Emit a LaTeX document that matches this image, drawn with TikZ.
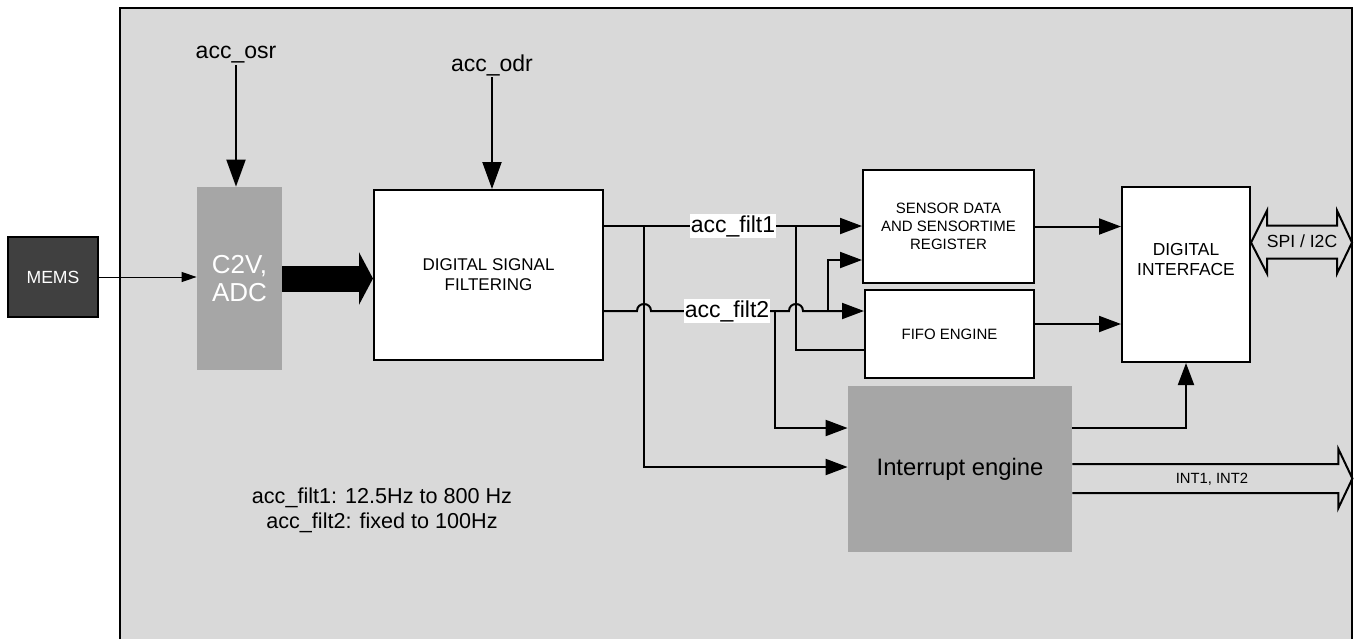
\documentclass[tikz,border=0pt]{standalone}
\usepackage{fontspec}
\setmainfont{Liberation Sans}
\usetikzlibrary{arrows.meta, positioning, calc}
\definecolor{bggray}{RGB}{217,217,217}
\definecolor{midgray}{RGB}{166,166,166}
\definecolor{memsgray}{RGB}{64,64,64}

\begin{document}
\begin{tikzpicture}[x=0.5pt,y=-0.5pt,
  arr/.style={-{Triangle[length=11pt,width=8pt]},line width=1pt},
  bigarr/.style={-{Triangle[length=13.5pt,width=9.5pt]},line width=1pt},
  wire/.style={line width=1pt},
  blk/.style={draw,fill=white,line width=1pt,align=center,inner sep=1pt},
  sig/.style={font=\fontsize{11.5}{13}\selectfont,inner sep=0.5pt},
  fat/.style={draw,line width=1pt,fill=bggray}
]
  \useasboundingbox (0,0) rectangle (1356,639);
  \fill[bggray] (120,8) rectangle (1352,639);
  \draw[line width=1pt] (120,639) -- (120,8) -- (1352,8) -- (1352,639);

  % blocks
  \node[draw,line width=1pt,fill=memsgray,text=white,minimum width=45pt,minimum height=40pt,font=\fontsize{8.8}{10}\selectfont] (mems) at (53,277) {MEMS};
  \node[fill=midgray,text=white,minimum width=42.5pt,minimum height=91.5pt,align=center,font=\fontsize{13}{14}\selectfont] (adc) at (239.5,278.5) {C2V,\\ADC};
  \node[blk,minimum width=114.5pt,minimum height=85pt,font=\fontsize{8.5}{10}\selectfont] (dsf) at (488.5,275) {DIGITAL SIGNAL\\FILTERING};
  \node[blk,minimum width=85.5pt,minimum height=56.5pt,font=\fontsize{7.5}{9}\selectfont] (sens) at (948.5,226.5) {SENSOR DATA\\AND SENSORTIME\\REGISTER};
  \node[blk,minimum width=84.5pt,minimum height=44pt,font=\fontsize{7.5}{9}\selectfont] (fifo) at (949.5,334) {FIFO ENGINE};
  \node[blk,minimum width=64pt,minimum height=87.5pt] (dif) at (1186,274.5) {};
  \node[align=center,font=\fontsize{8.7}{10}\selectfont] (diftxt) at (1186,260) {DIGITAL\\INTERFACE};
  \node[fill=midgray,minimum width=112pt,minimum height=83pt,font=\fontsize{11.9}{13}\selectfont] (irq) at (960,469) {Interrupt engine};

  \node[sig] (osr) at (236,55) {acc\_osr};
  \node[sig] (odr) at (492,65) {acc\_odr};
  \draw[bigarr] (osr) -- (osr |- adc.north);
  \draw[bigarr] (odr) -- (odr |- dsf.north);

  \draw[line width=0.5pt,-{Triangle[length=7.5pt,width=5pt]}] (mems) -- (mems -| adc.west);
  \draw[line width=13pt,-{Triangle[length=7pt,width=26pt]}] (adc) -- (adc -| dsf.west);

  \coordinate (j1) at (644,226);
  \coordinate (j2) at (796,226);
  \coordinate (j3) at (775,311);
  \coordinate (j4) at (828,311);
  \coordinate (h1) at (j1 |- j3);
  \coordinate (h2) at (j2 |- j3);

  \draw[arr] (dsf.east |- j1) -- (sens.west |- j1);
  \draw[arr] (j1) |- ([yshift=1pt]irq.west);
  \draw[wire] (j2) |- ([yshift=-8pt]fifo.west);
  \draw[arr] (dsf.east |- j3) -- ([xshift=-3.5pt]h1) .. controls +(0,-9.3) and +(0,-9.3) .. ([xshift=3.5pt]h1)
    -- ([xshift=-3.5pt]h2) .. controls +(0,-9.3) and +(0,-9.3) .. ([xshift=3.5pt]h2) -- (fifo.west |- j3);
  \draw[arr] (j3) |- ([yshift=20.5pt]irq.west);
  \draw[arr] (j4) |- ([yshift=-16.75pt]sens.west);
  \node[sig,fill=white] (filt1) at (733,226) {acc\_filt1};
  \node[sig,fill=white] (filt2) at (727,311) {acc\_filt2};

  \draw[arr] (sens) -- (sens -| dif.west);
  \coordinate (fo) at ([yshift=5pt]fifo.east);
  \draw[arr] (fo) -- (fo -| dif.west);
  \draw[arr] ([yshift=20.5pt]irq.east) -| (dif.south);

  % bus arrows
  \draw[fat] ([yshift=2.5pt]irq.east) -- ++(266,0) -- ++(0,-15) -- ++(14,29.5) -- ++(-14,29.5) -- ++(0,-15) -- ++(-266,0);
  \node[font=\fontsize{7.4}{9}\selectfont] (intl) at (1212,479) {INT1, INT2};
  \draw[fat] ([yshift=16pt]dif.east) -- ++(16,-32) -- ++(0,15) -- ++(70,0) -- ++(0,-15) -- ++(15,32)
    -- ++(-15,31) -- ++(0,-15) -- ++(-70,0) -- ++(0,15) -- cycle;
  \node[font=\fontsize{8.8}{10}\selectfont] (spi) at (1302,241) {SPI / I2C};

  \node[align=center,font=\fontsize{10.8}{12.5}\selectfont] (note) at (382,510) {acc\_filt1: 12.5Hz to 800 Hz\\acc\_filt2: fixed to 100Hz};
\end{tikzpicture}
\end{document}
